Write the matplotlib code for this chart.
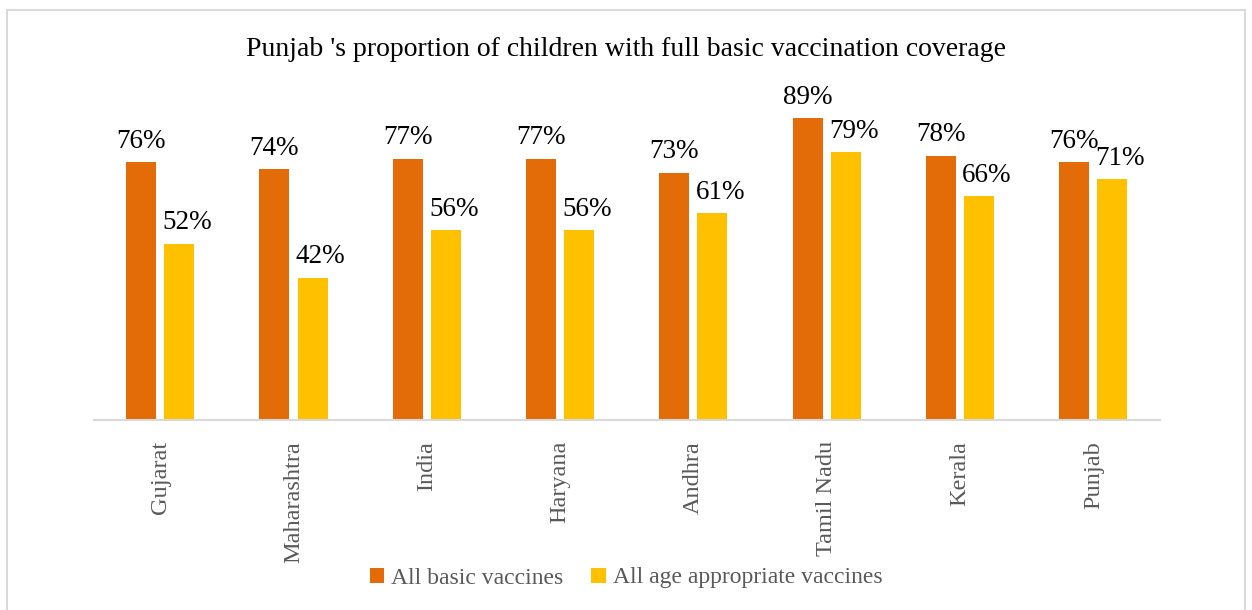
import numpy as np
import matplotlib.pyplot as plt
from matplotlib.patches import Rectangle

states = ["Gujarat", "Maharashtra", "India", "Haryana", "Andhra",
          "Tamil Nadu", "Kerala", "Punjab"]
basic = [76, 74, 77, 77, 73, 89, 78, 76]
age_appropriate = [52, 42, 56, 56, 61, 79, 66, 71]

orange = "#E36C09"
yellow = "#FFC000"

plt.rcParams["font.family"] = "Liberation Serif"

fig = plt.figure(figsize=(12.52, 6.10), dpi=100)
ax = fig.add_axes([93.5 / 1252, 1 - 420 / 610, 1066.5 / 1252, 339 / 610])

x = np.arange(len(states))
w = 0.225
off = 0.143
b1 = ax.bar(x - off, basic, w, color=orange, label="All basic vaccines")
b2 = ax.bar(x + off, age_appropriate, w, color=yellow,
            label="All age appropriate vaccines")

# yellow labels sit a little right of their bars, as in the original
for bars, vals, dx in ((b1, basic, 0.0), (b2, age_appropriate, 0.06)):
    for b, v in zip(bars, vals):
        ax.text(b.get_x() + b.get_width() / 2 + dx, v + 2.5, f"{v}%",
                ha="center", va="bottom", fontsize=19.5, color="#000000")

ax.set_xlim(-0.5, len(states) - 0.5)
ax.set_ylim(0, 100)
ax.set_yticks([])
ax.set_xticks(x)
ax.set_xticklabels(states, rotation=90, fontsize=17.5, color="#595959")
ax.tick_params(axis="x", length=0, pad=15)
for s in ["top", "right", "left"]:
    ax.spines[s].set_visible(False)
ax.spines["bottom"].set_color("#D9D9D9")
ax.spines["bottom"].set_linewidth(1.5)

fig.text(0.5, 1 - 49 / 610, "Punjab 's proportion of children with full basic vaccination coverage",
         ha="center", va="center", fontsize=20)

fig.legend(loc="center", bbox_to_anchor=(0.5, 1 - 578 / 610), ncol=2,
           frameon=False, fontsize=17, handlelength=0.6, handleheight=0.6,
           handletextpad=0.3, columnspacing=1.2, labelcolor="#595959")

fig.patches.append(Rectangle((7 / 1252, -0.01), 1238 / 1252, 1 - 10 / 610 + 0.01,
                             transform=fig.transFigure, fill=False,
                             edgecolor="#D9D9D9", linewidth=1.5))

fig.savefig("out.png", dpi=100)
